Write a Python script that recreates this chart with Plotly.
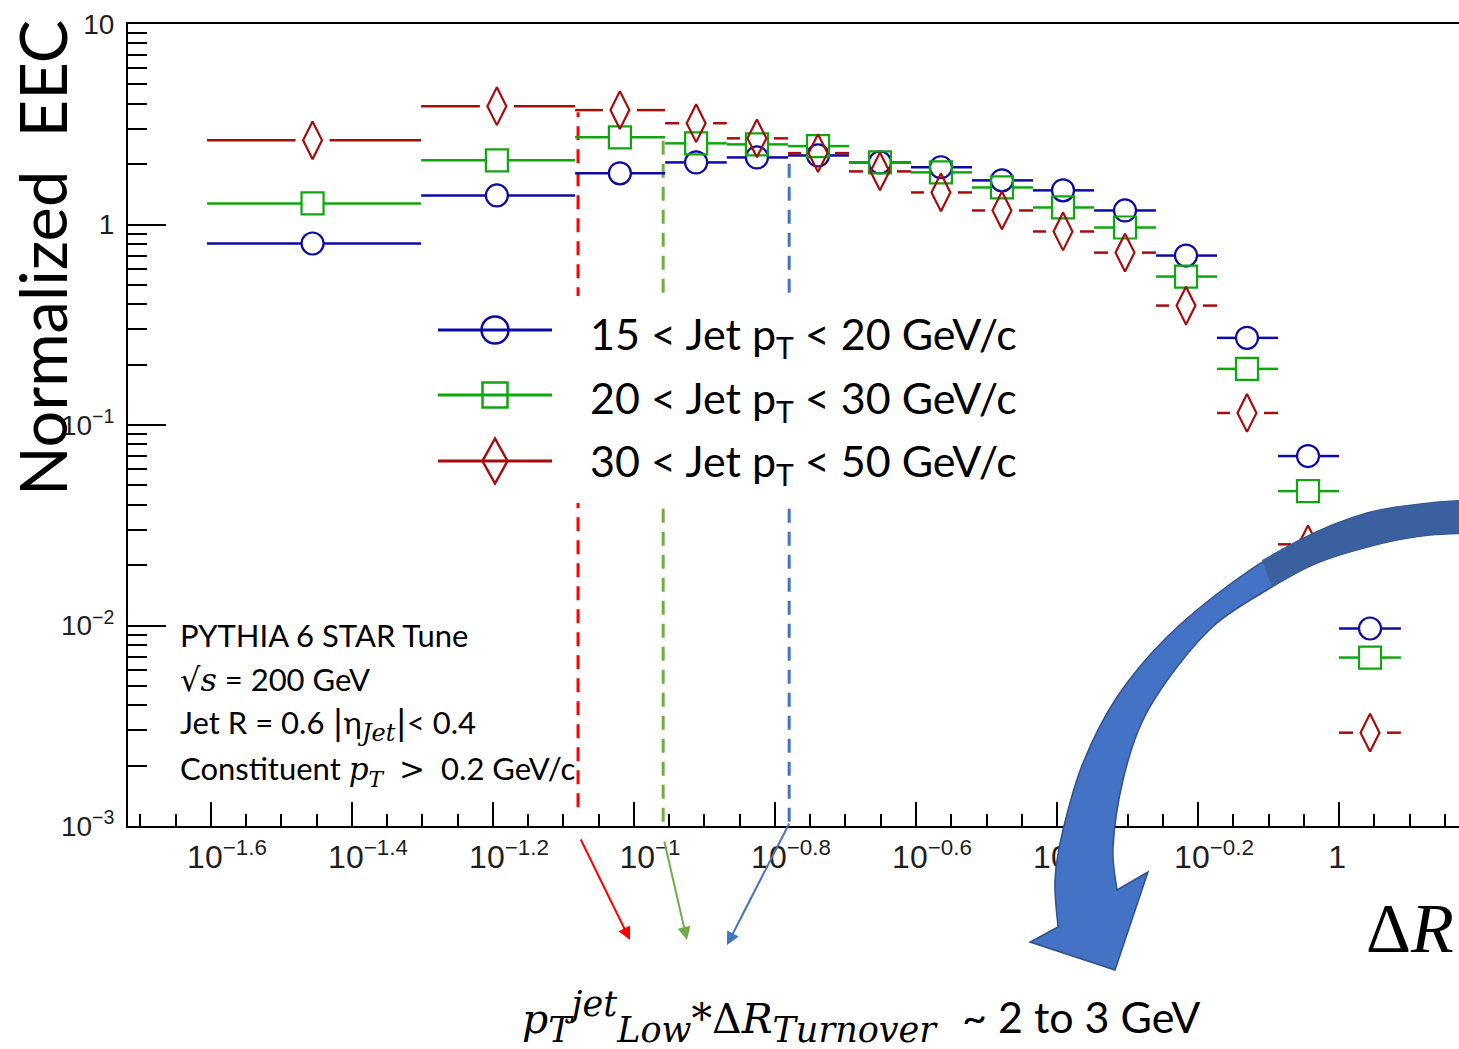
import numpy as np
import plotly.graph_objects as go

# ---------------- data ----------------
dR_center = [0.0350, 0.0639, 0.0955, 0.1225, 0.1494, 0.1824, 0.2233, 0.2725,
             0.3326, 0.4060, 0.4971, 0.6067, 0.7404, 0.9037, 1.1066]
dR_low = [0.0248, 0.0499, 0.0825, 0.1107, 0.1354, 0.1654, 0.2018, 0.2471,
          0.3016, 0.3681, 0.4494, 0.5500, 0.6714, 0.8194, 1.0000]
dR_high = [0.0499, 0.0825, 0.1107, 0.1354, 0.1654, 0.2018, 0.2471, 0.3016,
           0.3681, 0.4494, 0.5500, 0.6714, 0.8194, 1.0000, 1.2240]

eec_15_20 = [0.804, 1.396, 1.80, 2.04, 2.16, 2.21, 2.04, 1.93, 1.66, 1.48,
             1.175, 0.700, 0.272, 0.0700, 0.00966]
eec_20_30 = [1.274, 2.09, 2.72, 2.54, 2.51, 2.46, 2.04, 1.82, 1.53, 1.216,
             0.966, 0.550, 0.1905, 0.0468, 0.00692]
eec_30_50 = [2.63, 3.89, 3.72, 3.20, 2.69, 2.27, 1.84, 1.445, 1.175, 0.923,
             0.724, 0.394, 0.1148, 0.0254, 0.00292]

series_labels = ["15 < Jet p<sub>T</sub> < 20 GeV/c",
                 "20 < Jet p<sub>T</sub> < 30 GeV/c",
                 "30 < Jet p<sub>T</sub> < 50 GeV/c"]

# turnover positions (blue, green, red) and vertical extent of the guide lines
turnover_dR = [0.166, 0.110, 0.0833]
turnover_top = [2.21, 2.88, 3.63]
turnover_bottom = [0.00105, 0.00105, 0.00124]

x_tick_exp = [-1.6, -1.4, -1.2, -1.0, -0.8, -0.6, -0.4, -0.2, 0.0]
x_tick_text = ["10<sup>\u22121.6</sup>", "10<sup>\u22121.4</sup>", "10<sup>\u22121.2</sup>",
               "10<sup>\u22121</sup>", "10<sup>\u22120.8</sup>", "10<sup>\u22120.6</sup>",
               "10<sup>\u22120.4</sup>", "10<sup>\u22120.2</sup>", "1\u2007\u2007"]
y_tick_vals = [0.001, 0.01, 0.1, 1, 10]
y_tick_text = ["10<sup>\u22123</sup>", "10<sup>\u22122</sup>", "10<sup>\u22121</sup>", "1", "10"]

# ---------------- layout geometry ----------------
W, H = 1459, 1049
PL, PR, PT, PB = 128, 1459, 24, 826
XR = [-1.7177, 0.1702]
YR = [-3, 1]
PPD = (PR - PL) / (XR[1] - XR[0])  # px per decade on x


def X(px):
    return (px - PL) / (PR - PL)


def Y(py):
    return (PB - py) / (PB - PT)


colors = ["#0b0ba3", "#10a610", "#a50d0d"]
symbols = ["circle-open", "square-open", "diamond-tall-open"]
msizes = [22, 22, 27]
gaps_px = [11, 11, 17]
series = [eec_15_20, eec_20_30, eec_30_50]

fig = go.Figure()

# turnover dashed guide lines (blue, green, red)
guide_cols = ["#4472C4", "#70AD47", "#FF0000"]
for xv, t, b, c in zip(turnover_dR, turnover_top, turnover_bottom, guide_cols):
    fig.add_trace(go.Scatter(x=[xv, xv], y=[b, t], mode="lines",
                             line=dict(color=c, width=3, dash="14px,9px"),
                             hoverinfo="skip", showlegend=False))

for vals, col, sym, ms, gp in zip(series, colors, symbols, msizes, gaps_px):
    g = gp / PPD
    bx, by = [], []
    for c, lo, hi, v in zip(dR_center, dR_low, dR_high, vals):
        bx += [lo, c * 10 ** (-g), None, c * 10 ** g, hi, None]
        by += [v, v, None, v, v, None]
    fig.add_trace(go.Scatter(x=bx, y=by, mode="lines",
                             line=dict(color=col, width=2.5),
                             hoverinfo="skip", showlegend=False))
    fig.add_trace(go.Scatter(x=dR_center, y=vals, mode="markers",
                             marker=dict(symbol=sym, size=ms, color=col,
                                         line=dict(color=col, width=2.2)),
                             showlegend=False))

shapes = []
# white legend box hiding the guides
shapes.append(dict(type="rect", xref="paper", yref="paper",
                   x0=X(432), x1=X(1035), y0=Y(503), y1=Y(296),
                   fillcolor="white", line=dict(width=0), layer="above"))

# manual legend symbols
leg_y = [330, 395, 461]
for i, (ly, col) in enumerate(zip(leg_y, colors)):
    shapes.append(dict(type="line", xref="paper", yref="paper",
                       x0=X(438), x1=X(552), y0=Y(ly), y1=Y(ly),
                       line=dict(color=col, width=3), layer="above"))
    if i == 0:
        shapes.append(dict(type="circle", xref="paper", yref="paper",
                           x0=X(481.5), x1=X(508.5), y0=Y(ly + 13.5), y1=Y(ly - 13.5),
                           line=dict(color=col, width=2.5), layer="above"))
    elif i == 1:
        shapes.append(dict(type="rect", xref="paper", yref="paper",
                           x0=X(482.5), x1=X(507.5), y0=Y(ly + 12.5), y1=Y(ly - 12.5),
                           line=dict(color=col, width=2.5), layer="above"))
    else:
        p = (f"M{X(495)},{Y(ly - 22.5)} L{X(507.5)},{Y(ly)} "
             f"L{X(495)},{Y(ly + 22.5)} L{X(482.5)},{Y(ly)} Z")
        shapes.append(dict(type="path", xref="paper", yref="paper", path=p,
                           line=dict(color=col, width=2.5), layer="above"))


# big curved blue arrow
def smooth(pts, start=True):
    s = ""
    if start:
        s += f"M{X(pts[0][0]):.5f},{Y(pts[0][1]):.5f}"
    else:
        s += f" L{X(pts[0][0]):.5f},{Y(pts[0][1]):.5f}"
    P = [np.array(p, float) for p in pts]
    for i in range(len(P) - 1):
        p0 = P[i - 1] if i > 0 else P[i]
        p1, p2 = P[i], P[i + 1]
        p3 = P[i + 2] if i + 2 < len(P) else P[i + 1]
        c1 = p1 + (p2 - p0) / 6
        c2 = p2 - (p3 - p1) / 6
        s += (f" C{X(c1[0]):.5f},{Y(c1[1]):.5f} {X(c2[0]):.5f},{Y(c2[1]):.5f}"
              f" {X(p2[0]):.5f},{Y(p2[1]):.5f}")
    return s


outer = [(1475, 500), (1430, 503), (1367, 513), (1300, 540), (1233, 582),
         (1167, 637), (1117, 697), (1083, 763), (1063, 830), (1055, 880), (1058, 927)]
inner = [(1117, 890), (1113, 847), (1123, 780), (1143, 720), (1177, 667),
         (1217, 623), (1267, 590), (1317, 563), (1383, 543), (1430, 535), (1475, 533)]
arrow_path = (smooth(outer)
              + f" L{X(1030)},{Y(942)} L{X(1115)},{Y(970)} L{X(1148)},{Y(872)}"
              + smooth(inner, start=False) + " Z")
shapes.append(dict(type="path", xref="paper", yref="paper", path=arrow_path,
                   fillcolor="#4472C4", line=dict(color="#2F528F", width=1.5),
                   layer="above"))
outer_top = [(1475, 500), (1430, 503), (1367, 513), (1300, 540), (1262, 560)]
inner_top = [(1272, 587), (1317, 563), (1383, 543), (1430, 535), (1475, 533)]
dark_path = smooth(outer_top) + smooth(inner_top, start=False) + " Z"
shapes.append(dict(type="path", xref="paper", yref="paper", path=dark_path,
                   fillcolor="#3B609F", line=dict(width=0), layer="above"))

annotations = []
# y title
annotations.append(dict(text="Normalized  EEC", xref="paper", yref="paper",
                        x=X(42), y=Y(258), textangle=-90, showarrow=False,
                        xanchor="center", yanchor="middle",
                        font=dict(family="Lato", size=65, color="black")))
# legend texts
for ly, lab in zip([337, 400, 463], series_labels):
    annotations.append(dict(text=lab, xref="paper", yref="paper", x=X(588), y=Y(ly),
                            showarrow=False, xanchor="left", yanchor="middle",
                            font=dict(family="Lato", size=43, color="black")))
# info text
ser = "font-family:'DejaVu Serif'"
info = ["PYTHIA 6 STAR Tune",
        f"<span style=\"{ser};font-size:32px\">\u221a<i>s</i></span> = 200 GeV",
        f"Jet R = 0.6 <span style=\"{ser};font-size:34px\">|</span>\u03b7"
        f"<sub><span style=\"{ser};font-size:24px\"><i>Jet</i></span></sub>"
        f"<span style=\"{ser};font-size:34px\">|</span>< 0.4",
        f"Constituent <span style=\"{ser};font-size:31px\"><i>p</i><sub><i>T</i></sub> \u2009>\u2009 </span>0.2 GeV/c"]
for ly, t in zip([635, 679, 724, 770], info):
    annotations.append(dict(text=t, xref="paper", yref="paper", x=X(178), y=Y(ly),
                            showarrow=False, xanchor="left", yanchor="middle",
                            font=dict(family="Lato", size=31, color="black")))
# small arrows
for (hx, hy, tx, ty, c) in [(630, 940, 580, 838, "#FF0000"),
                            (687, 940, 664, 840, "#70AD47"),
                            (727, 945, 790, 822, "#4472C4")]:
    annotations.append(dict(text="", xref="paper", yref="paper", x=X(hx), y=Y(hy),
                            ax=tx - hx, ay=ty - hy, axref="pixel", ayref="pixel",
                            showarrow=True, arrowhead=2, arrowsize=1.3,
                            arrowwidth=2, arrowcolor=c))
# Delta R label
annotations.append(dict(text="\u0394<i>R</i>", xref="paper", yref="paper",
                        x=X(1410), y=Y(928), showarrow=False,
                        xanchor="center", yanchor="middle",
                        font=dict(family="Liberation Serif", size=70, color="black")))
# bottom formula
sub = "<span style=\"font-size:35px\"><i>{}</i></span>"
annotations.append(dict(text="<i>p</i><sub>" + sub.format("T") + "</sub><sup>" + sub.format("jet")
                             + "</sup><sub>" + sub.format("Low") + "</sub>*\u0394<i>R</i><sub>"
                             + sub.format("Turnover") + "</sub>",
                        xref="paper", yref="paper", x=X(520), y=Y(1017),
                        showarrow=False, xanchor="left", yanchor="middle",
                        font=dict(family="DejaVu Serif", size=41, color="black")))
annotations.append(dict(text="~ 2 to 3 GeV", xref="paper", yref="paper",
                        x=X(960), y=Y(1016), showarrow=False,
                        xanchor="left", yanchor="middle",
                        font=dict(family="Lato", size=43, color="black")))

x_minor = [10 ** (k * 0.05) for k in range(-35, 4)]
y_minor = [m * 10 ** e for e in range(-3, 1) for m in range(2, 10)]

fig.update_layout(
    width=W, height=H, autosize=False,
    margin=dict(l=PL, r=W - PR, t=PT, b=H - PB, pad=0),
    paper_bgcolor="white", plot_bgcolor="white",
    showlegend=False,
    shapes=shapes, annotations=annotations,
    xaxis=dict(type="log", range=XR, showgrid=False, zeroline=False,
               showline=True, linecolor="black", linewidth=2, mirror=True,
               tickmode="array", tickvals=[10 ** e for e in x_tick_exp], ticktext=x_tick_text,
               ticks="inside", ticklen=24, tickwidth=2, tickcolor="black",
               ticklabelshift=16, ticklabelstandoff=2,
               tickfont=dict(family="Liberation Sans, Arial", size=32, color="#1e1e1e"),
               minor=dict(tickmode="array", tickvals=x_minor, ticks="inside",
                          ticklen=12, tickwidth=2, tickcolor="black", showgrid=False)),
    yaxis=dict(type="log", range=YR, showgrid=False, zeroline=False,
               showline=True, linecolor="black", linewidth=2, mirror=False,
               tickmode="array", tickvals=y_tick_vals, ticktext=y_tick_text,
               ticks="inside", ticklen=38, tickwidth=2, tickcolor="black",
               ticklabelstandoff=6,
               tickfont=dict(family="Liberation Sans, Arial", size=28, color="#1e1e1e"),
               minor=dict(tickmode="array", tickvals=y_minor, ticks="inside",
                          ticklen=19, tickwidth=2, tickcolor="black", showgrid=False)),
)

fig.write_html("out.html")
